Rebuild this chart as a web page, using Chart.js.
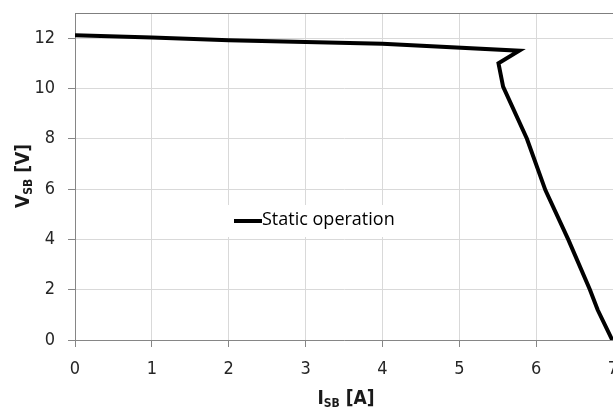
<!DOCTYPE html>
<html>
<head>
<meta charset="utf-8">
<script src="https://cdn.jsdelivr.net/npm/chart.js@4/dist/chart.umd.min.js"></script>
<style>
  html, body { margin: 0; padding: 0; background: #fff; overflow: hidden; }
  #wrap { width: 613px; height: 410px; overflow: hidden; }
  #box { width: 632px; height: 410px; }
</style>
</head>
<body>
<div id="wrap"><div id="box"><canvas id="c"></canvas></div></div>
<script>
// Static operating curve: current I_SB [A] vs voltage V_SB [V]
const seriesName = 'Static operation';
const currentA = [0, 1, 2, 3, 4, 5.78, 5.51, 5.57, 5.88, 6.12, 6.42, 6.70, 6.80, 6.99];
const voltageV = [12.12, 12.03, 11.92, 11.85, 11.78, 11.5, 11.0, 10.07, 8.0, 5.96, 3.98, 2.0, 1.2, 0.0];
const xTicks = [0, 1, 2, 3, 4, 5, 6, 7];
const yTicks = [0, 2, 4, 6, 8, 10, 12];

const points = currentA.map((x, i) => ({ x: x, y: voltageV[i] }));
const narrow = '"Liberation Sans Narrow", "DejaVu Sans Condensed", sans-serif';

// Axis titles with subscripts, plus an in-plot legend box
const decor = {
  id: 'decor',
  afterDraw(chart) {
    const ctx = chart.ctx;
    const a = chart.chartArea;
    ctx.save();
    // top frame line
    ctx.strokeStyle = '#7f7f7f';
    ctx.lineWidth = 1;
    ctx.beginPath();
    ctx.moveTo(a.left, a.top + 0.5);
    ctx.lineTo(a.right, a.top + 0.5);
    ctx.stroke();

    // legend
    ctx.fillStyle = '#fff';
    ctx.fillRect(228, 205, 174, 32);
    ctx.strokeStyle = '#000';
    ctx.lineWidth = 4;
    ctx.beginPath();
    ctx.moveTo(234, 221);
    ctx.lineTo(262, 221);
    ctx.stroke();
    ctx.fillStyle = '#000';
    ctx.font = '18px "Open Sans", "Noto Sans", sans-serif';
    ctx.textBaseline = 'middle';
    ctx.textAlign = 'left';
    ctx.fillText(seriesName, 262, 220);

    // subscripted title helper
    function subTitle(parts, x, y) {
      const big = 'bold 19px ' + narrow;
      const small = 'bold 12px ' + narrow;
      let w = 0;
      parts.forEach(p => { ctx.font = p[1] ? small : big; w += ctx.measureText(p[0]).width; });
      let cx = x - w / 2;
      ctx.textAlign = 'left';
      ctx.textBaseline = 'alphabetic';
      parts.forEach(p => {
        ctx.font = p[1] ? small : big;
        ctx.fillText(p[0], cx, y + (p[1] ? 3 : 0));
        cx += ctx.measureText(p[0]).width;
      });
    }
    ctx.fillStyle = '#1a1a1a';
    subTitle([['I', 0], ['SB', 1], [' [A]', 0]], 346, 404);
    ctx.save();
    ctx.translate(29, 176);
    ctx.rotate(-Math.PI / 2);
    subTitle([['V', 0], ['SB', 1], [' [V]', 0]], 0, 0);
    ctx.restore();
    ctx.restore();
  }
};

new Chart(document.getElementById('c'), {
  type: 'line',
  data: {
    datasets: [{
      label: seriesName,
      data: points,
      borderColor: '#000',
      borderWidth: 4,
      pointRadius: 0,
      tension: 0,
      fill: false,
      borderJoinStyle: 'miter'
    }]
  },
  options: {
    responsive: true,
    maintainAspectRatio: false,
    animation: false,
    layout: { padding: { top: 13, right: 19, left: 0, bottom: 0 } },
    plugins: { legend: { display: false }, tooltip: { enabled: false } },
    scales: {
      x: {
        type: 'linear',
        min: 0, max: 7,
        afterBuildTicks(s) { s.ticks = xTicks.map(v => ({ value: v })); },
        afterFit(s) { s.height = 70; s.paddingLeft = 0; s.paddingRight = 0; },
        grid: { color: '#d9d9d9', lineWidth: 1, tickColor: '#868686', tickLength: 7, drawTicks: true },
        border: { color: '#868686', width: 1 },
        ticks: { color: '#262626', font: { size: 18, family: narrow }, padding: 12, maxRotation: 0 }
      },
      y: {
        type: 'linear',
        min: 0, max: 13,
        afterBuildTicks(s) { s.ticks = yTicks.map(v => ({ value: v })); },
        afterFit(s) { s.width = 75; s.paddingTop = 0; s.paddingBottom = 0; },
        grid: { color: '#d9d9d9', lineWidth: 1, tickColor: '#868686', tickLength: 7, drawTicks: true },
        border: { color: '#868686', width: 1 },
        ticks: { color: '#262626', font: { size: 18, family: narrow }, padding: 13 }
      }
    }
  },
  plugins: [decor]
});
</script>
</body>
</html>
